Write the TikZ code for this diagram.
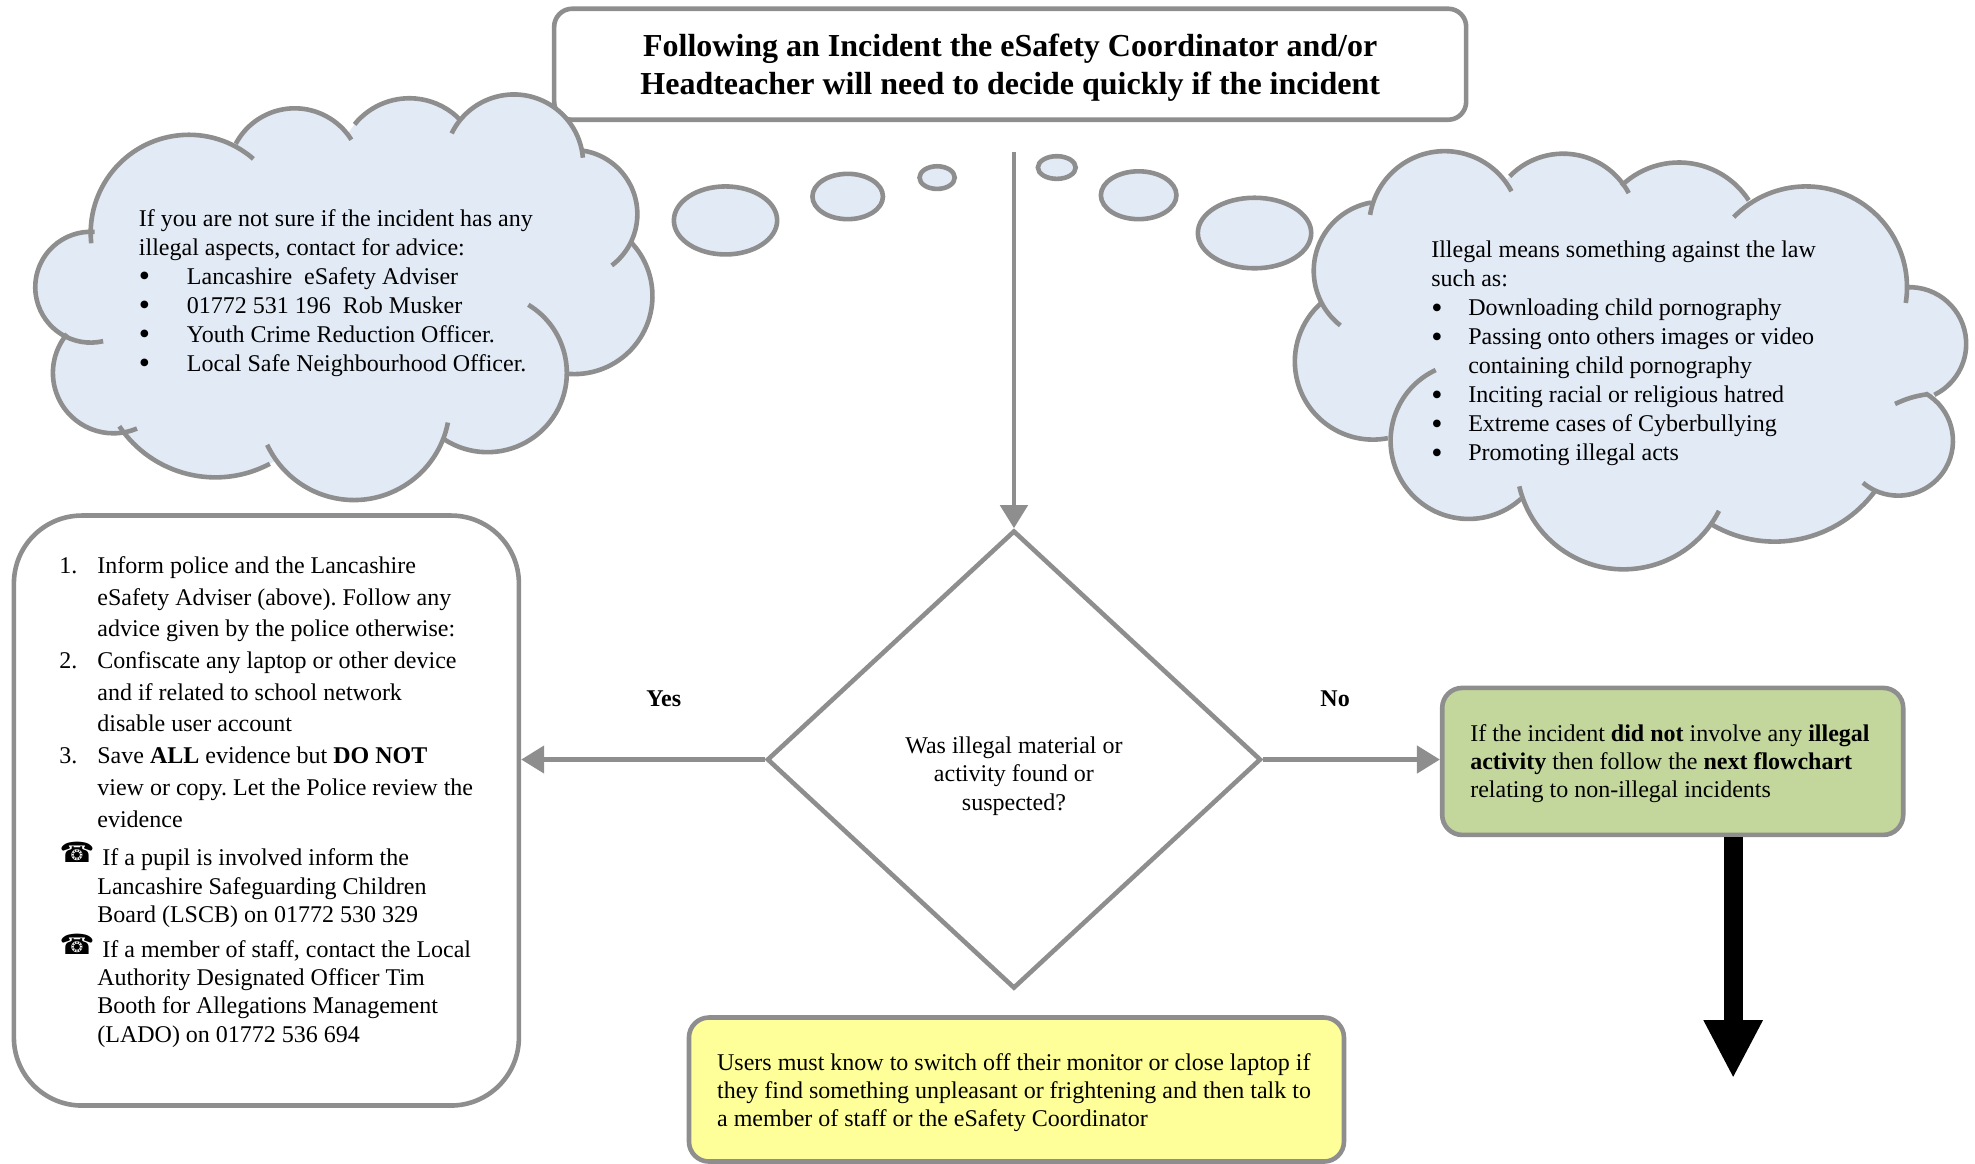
\documentclass[tikz,border=0pt]{standalone}
\usepackage{fontspec}
\setmainfont{Liberation Serif}
\newfontfamily\phonefont{DejaVu Sans}
\usetikzlibrary{arrows.meta,shapes.geometric}
\frenchspacing
\definecolor{linegray}{HTML}{8E8E8E}
\definecolor{cloudblue}{HTML}{E2EAF5}
\definecolor{noteyellow}{HTML}{FFFF99}
\definecolor{notegreen}{HTML}{C3D69B}
\newcommand{\bulletitem}[2]{\makebox[#1][l]{\raisebox{-1.2pt}{\fontsize{16}{16}\selectfont\textbullet}}#2}
\newcommand{\numbered}[2]{\llap{#1\hspace{10pt}}#2}
\newcommand{\phoneitem}[1]{\llap{\raisebox{1.5pt}{\phonefont\fontsize{14}{14}\selectfont ☎}\hspace{1.5pt}}\hspace{2.5pt}#1}
\tikzset{
	box/.style={draw=linegray, line width=2.3pt, rounded corners=#1},
	label text/.style={inner sep=0pt, anchor=north west, align=left, font=\fontsize{12}{14.5}\selectfont},
	cloud line/.style={draw=linegray, line width=2.3pt},
	link/.style={draw=linegray, line width=2.3pt, -{Triangle[length=11.5pt,width=13.5pt]}}
}
% centre x / centre y / radius / from angle / to angle
\def\leftlobes{150/185/78/174/311, 234/139/53/208/328, 325/134/56/219/317, 408/130/55/206/355, 455/170/51/277/413, 456/235/62/316/456, 387/296/63/301/483, 281/321/76/11/155, 171/287/92/62/146, 90/296/48/67/220, 72/228/44/77/274}
\def\rightlobes{1098/215/55/128/260, 1147/180/60/189/332, 1241/181/59/224/332, 1333/195/66/226/327, 1434/228/80/224/369, 1516/273/45/267/424, 1507/350/43.5/300/490, 1409/331/99/36/120, 1289/367/85/27/167, 1166/350/62/48/245, 1090/287/62/79/229}
\begin{document}
\begin{tikzpicture}[x=0.62978pt, y=-0.62978pt]
	\useasboundingbox (0,0) rectangle (1568,924);
	\node[box=9pt, minimum width=456pt, minimum height=55.5pt] (title) at (802,51) {};
	\node[inner sep=0pt, align=center, font=\fontsize{16}{18.9}\bfseries\selectfont] (titletext) at (802,53.5) {Following an Incident the eSafety Coordinator and/or\\Headteacher will need to decide quickly if the incident};
	% thought bubbles
	\foreach \cx/\cy/\rx/\ry in {576/175/41/27, 673/156/28/18, 744/141/14/9, 839/133/15/9, 904/155/30/19, 996/185/45/28}
		\draw[cloud line, fill=cloudblue] (\cx,\cy) ellipse [x radius=\rx, y radius=\ry];
	% left cloud
	\fill[cloudblue] (150,185) -- (234,139) -- (325,134) -- (408,130) -- (455,170) -- (456,235) -- (387,296) -- (281,321) -- (171,287) -- (90,296) -- (72,228) -- cycle;
	\foreach \cx/\cy/\r/\a/\b in \leftlobes
		\fill[cloudblue] (\cx,\cy) circle [radius=\r];
	\foreach \cx/\cy/\r/\a/\b in \leftlobes
		\draw[cloud line] (\cx,\cy) ++(\a:\r) arc[start angle=\a, end angle=\b, radius=\r];
	% right cloud
	\fill[cloudblue] (1098,215) -- (1147,180) -- (1241,181) -- (1333,195) -- (1434,228) -- (1516,273) -- (1507,350) -- (1409,331) -- (1289,367) -- (1166,350) -- (1090,287) -- cycle;
	\foreach \cx/\cy/\r/\a/\b in \rightlobes
		\fill[cloudblue] (\cx,\cy) circle [radius=\r];
	\foreach \cx/\cy/\r/\a/\b in \rightlobes
		\draw[cloud line] (\cx,\cy) ++(\a:\r) arc[start angle=\a, end angle=\b, radius=\r];
	\draw[cloud line] (1504.5,320.7) to[bend left=8] (1530,313);
	\node[label text] (advice) at (110,166) {If you are not sure if the incident has any\\illegal aspects, contact for advice:\\
		\bulletitem{24pt}{Lancashire~ eSafety Adviser}\\
		\bulletitem{24pt}{01772 531 196~ Rob Musker}\\
		\bulletitem{24pt}{Youth Crime Reduction Officer.}\\
		\bulletitem{24pt}{Local Safe Neighbourhood Officer.}};
	\node[label text] (meaning) at (1136,191) {Illegal means something against the law\\such as:\\
		\bulletitem{18.5pt}{Downloading child pornography}\\
		\bulletitem{18.5pt}{Passing onto others images or video}\\
		\hspace{18.5pt}containing child pornography\\
		\bulletitem{18.5pt}{Inciting racial or religious hatred}\\
		\bulletitem{18.5pt}{Extreme cases of Cyberbullying}\\
		\bulletitem{18.5pt}{Promoting illegal acts}};
	% decision
	\coordinate (thoughts) at (805,121);
	\node[draw=linegray, line width=2.3pt, shape=diamond, minimum width=247pt, minimum height=229pt, inner sep=0pt] (found) at (805,603) {};
	\node[label text, anchor=center, align=center, font=\fontsize{12}{14.2}\selectfont] (question) at (805,616) {Was illegal material or\\activity found or\\suspected?};
	\node[box=34pt, fill=white, minimum width=252.5pt, minimum height=295pt] (actions) at (211.5,643.5) {};
	\node[label text, font=\fontsize{12}{15.85}\selectfont] (steps) at (77,441.5) {\numbered{1.}{Inform police and the Lancashire}\\eSafety Adviser (above). Follow any\\advice given by the police otherwise:\\
		\numbered{2.}{Confiscate any laptop or other device}\\and if related to school network\\disable user account\\
		\numbered{3.}{Save \textbf{ALL} evidence but \textbf{DO NOT}}\\view or copy. Let the Police review the\\evidence};
	\node[label text, font=\fontsize{12}{14.2}\selectfont] (pupil) at (77,668.5) {\phoneitem{If a pupil is involved inform the}\\Lancashire Safeguarding Children\\Board (LSCB) on 01772 530 329};
	\node[label text, font=\fontsize{12}{14.2}\selectfont] (staff) at (77,741) {\phoneitem{If a member of staff, contact the Local}\\Authority Designated Officer Tim\\Booth for Allegations Management\\(LADO) on 01772 536 694};
	\node[box=10pt, fill=notegreen, minimum width=230.5pt, minimum height=73.5pt] (other) at (1328,604.5) {};
	\node[label text, font=\fontsize{12}{14}\selectfont] (othertext) at (1167,575) {If the incident \textbf{did not} involve any \textbf{illegal}\\\textbf{activity} then follow the \textbf{next flowchart}\\relating to non-illegal incidents};
	\node[box=10pt, fill=noteyellow, minimum width=327.5pt, minimum height=72pt] (users) at (807,865) {};
	\node[label text, font=\fontsize{12}{14}\selectfont] (userstext) at (569,836) {Users must know to switch off their monitor or close laptop if\\they find something unpleasant or frightening and then talk to\\a member of staff or the eSafety Coordinator};
	\node[font=\fontsize{12}{14}\bfseries\selectfont] (yes) at (527,555) {Yes};
	\node[font=\fontsize{12}{14}\bfseries\selectfont] (no) at (1060,555) {No};
	\draw[link] (thoughts) -- (found.north);
	\draw[link] (found.west) -- (found.west -| actions.east);
	\draw[link] (found.east) -- (found.east -| other.west);
	\coordinate (next) at (1376,856);
	\draw[line width=9.4pt, -{Triangle[length=29pt,width=27.5pt]}] (next |- other.south) -- (next);
\end{tikzpicture}
\end{document}
